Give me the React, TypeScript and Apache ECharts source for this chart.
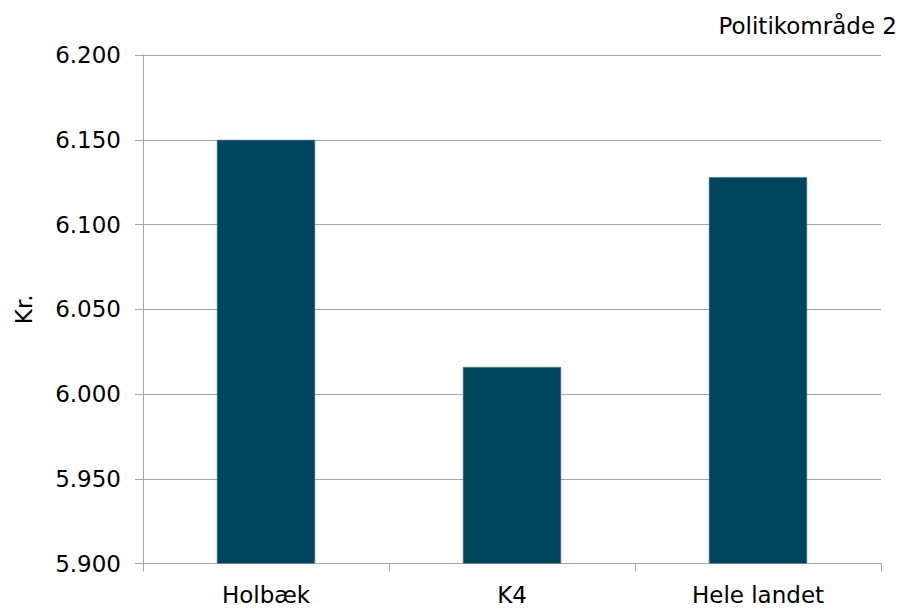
import React, { useEffect, useRef } from "react";
import * as echarts from "echarts";

const categories = ["Holbæk", "K4", "Hele landet"];
const values = [6150, 6016, 6128];
const yMin = 5900;
const yMax = 6200;
const yStep = 50;
const yAxisName = "Kr.";
const titleText = "Politikområde 2";

const fmt = (v: number) => {
  const t = Math.floor(v / 1000);
  const r = Math.round(v % 1000);
  return t + "." + String(r).padStart(3, "0");
};

export default function App() {
  const ref = useRef<HTMLDivElement>(null);
  useEffect(() => {
    document.body.style.margin = "0";
    const chart = echarts.init(ref.current!, null, { renderer: "svg" });
    const font = "DejaVu Sans";
    const axisColor = "#a6a6a6";
    chart.setOption({
      animation: false,
      backgroundColor: "#ffffff",
      title: {
        text: titleText,
        right: 1,
        top: 9,
        textStyle: { fontFamily: font, fontSize: 23, fontWeight: "normal", color: "#000" },
      },
      grid: { left: 143, right: 22, top: 55, bottom: 44.5 },
      xAxis: {
        type: "category",
        data: categories,
        axisLine: { show: true, lineStyle: { color: axisColor, width: 1 } },
        axisTick: { show: true, length: 8, lineStyle: { color: axisColor } },
        axisLabel: { fontFamily: font, fontSize: 23, color: "#000", margin: 20 },
        splitLine: { show: false },
      },
      yAxis: {
        type: "value",
        min: yMin,
        max: yMax,
        interval: yStep,
        name: yAxisName,
        nameLocation: "middle",
        nameGap: 108,
        nameRotate: 90,
        nameTextStyle: { fontFamily: font, fontSize: 23, color: "#000" },
        axisLine: { show: true, lineStyle: { color: axisColor, width: 1 } },
        axisTick: { show: true, length: 8, lineStyle: { color: axisColor } },
        axisLabel: {
          fontFamily: font,
          fontSize: 23,
          color: "#000",
          margin: 22,
          formatter: (v: number) => fmt(v),
        },
        splitLine: { show: true, lineStyle: { color: axisColor, width: 1 } },
      },
      series: [
        {
          type: "bar",
          data: values,
          barWidth: "40%",
          itemStyle: { color: "#024459", borderColor: "#6d93a3", borderWidth: 0.6 },
        },
      ],
    });
    return () => chart.dispose();
  }, []);
  return <div ref={ref} style={{ width: 903, height: 608 }} />;
}
